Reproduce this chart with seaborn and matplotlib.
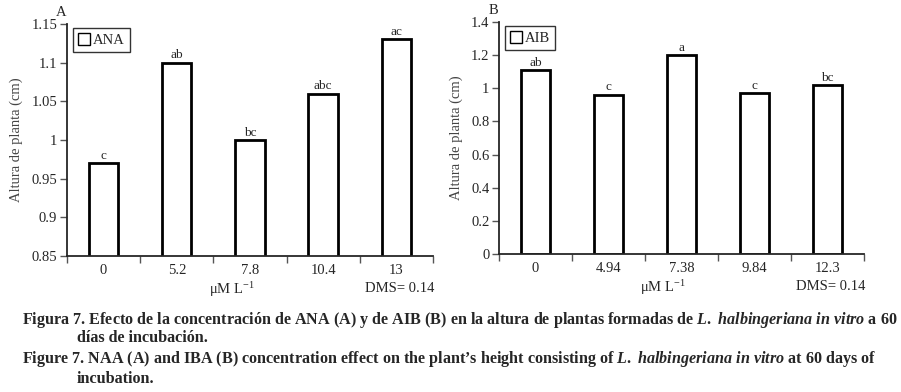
import seaborn as sns
import matplotlib.pyplot as plt
import numpy as np
import pandas as pd
from matplotlib.patches import Patch

sns.set_style('ticks')
plt.rcParams['font.family'] = ['Liberation Serif', 'DejaVu Serif']
plt.rcParams['mathtext.fontset'] = 'custom'
plt.rcParams['mathtext.rm'] = 'Liberation Serif:bold'
plt.rcParams['mathtext.it'] = 'Liberation Serif:italic:bold'

# panel A - ANA
ana_conc = ['0', '5.2', '7.8', '10.4', '13']
ana_height = [0.97, 1.10, 1.00, 1.06, 1.13]
ana_letters = ['c', 'ab', 'bc', 'abc', 'ac']

# panel B - AIB
aib_conc = ['0', '4.94', '7.38', '9.84', '12.3']
aib_height = [1.11, 0.96, 1.20, 0.97, 1.02]
aib_letters = ['ab', 'c', 'a', 'c', 'bc']

ana_yticks = [0.85, 0.9, 0.95, 1, 1.05, 1.1, 1.15]
aib_yticks = [0, 0.2, 0.4, 0.6, 0.8, 1, 1.2, 1.4]


def draw_panel(ax, conc, height, letters, yticks, ylim, name, tag):
    df = pd.DataFrame({'conc': conc, 'height': height})
    sns.barplot(data=df, x='conc', y='height', ax=ax, color='white',
                edgecolor='black', linewidth=2, width=0.4, saturation=1)
    ax.bar_label(ax.containers[0], labels=letters, padding=1, fontsize=9.5)
    ax.set_ylim(*ylim)
    ax.set_yticks(yticks)
    ax.set_yticklabels([f'{t:g}' for t in yticks], fontsize=10.5)
    ax.set_xlim(-0.5, len(conc) - 0.5)
    # ticks between categories, labels centred
    ax.set_xticks(np.arange(-0.5, len(conc)), minor=False)
    ax.set_xticklabels([''] * (len(conc) + 1))
    ax.set_xticks(np.arange(len(conc)), minor=True)
    ax.set_xticklabels(conc, minor=True, fontsize=10.5)
    ax.tick_params(axis='x', which='minor', length=0, pad=6)
    ax.tick_params(axis='both', which='major', length=5, width=1, color='#555555')
    ax.tick_params(axis='y', pad=2)
    ax.set_xlabel('')
    ax.set_ylabel('Altura de planta (cm)', fontsize=10.5, color='#444444', labelpad=6)
    sns.despine(ax=ax)
    for s in ['left', 'bottom']:
        ax.spines[s].set_linewidth(1.3)
    handle = Patch(facecolor='white', edgecolor='black', linewidth=1)
    leg = ax.legend([handle], [name], loc='upper left', bbox_to_anchor=(0.005, 1.0),
                    fontsize=10.5, frameon=True, fancybox=False, handlelength=0.8,
                    handleheight=0.8, handletextpad=0.2, borderpad=0.35,
                    borderaxespad=0.3)
    leg.get_frame().set_edgecolor('black')
    leg.get_frame().set_linewidth(1)
    ax.text(-0.015, 1.02, tag, transform=ax.transAxes, fontsize=10.5, ha='center', va='bottom')
    ax.text(0.45, -0.145, r'$\mathregular{\mu M\ L^{-1}}$', transform=ax.transAxes,
            fontsize=10.5, ha='center', va='center')
    ax.text(0.91, -0.14, 'DMS= 0.14', transform=ax.transAxes,
            fontsize=10.5, ha='center', va='center')


fig = plt.figure(figsize=(9.01, 3.92), dpi=100)
ax1 = fig.add_axes([0.0744, 0.347, 0.406, 0.592])
ax2 = fig.add_axes([0.5538, 0.352, 0.405, 0.592])

draw_panel(ax1, ana_conc, ana_height, ana_letters, ana_yticks, (0.85, 1.15), 'ANA', 'A')
draw_panel(ax2, aib_conc, aib_height, aib_letters, aib_yticks, (0, 1.4), 'AIB', 'B')

cap = dict(fontsize=11.6, fontweight='bold', ha='left', va='center')
fig.text(0.024, 1 - 320 / 392,
         r'Figura 7. Efecto de la concentración de ANA (A) y de AIB (B) en la altura de plantas formadas de $\it{L.\ halbingeriana\ in\ vitro}$ a 60', **cap)
fig.text(0.085, 1 - 338 / 392, 'días de incubación.', **cap)
fig.text(0.024, 1 - 359 / 392,
         r'Figure 7. NAA (A) and IBA (B) concentration effect on the plant’s height consisting of $\it{L.\ halbingeriana\ in\ vitro}$ at 60 days of', **cap)
fig.text(0.085, 1 - 379 / 392, 'incubation.', **cap)

fig.savefig('out.png', dpi=100)
